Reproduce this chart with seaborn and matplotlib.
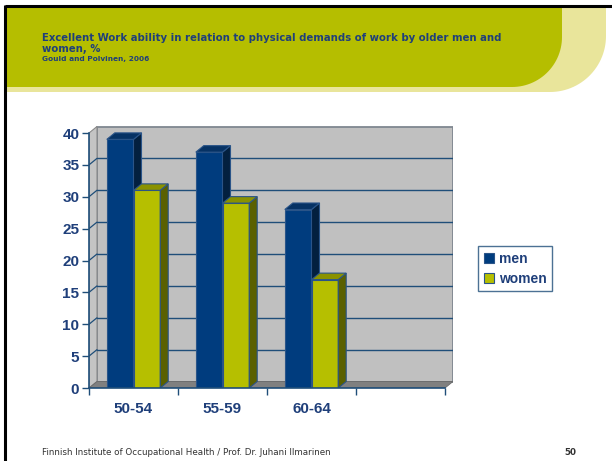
import numpy as np
import pandas as pd
import matplotlib
matplotlib.use("Agg")
import matplotlib.pyplot as plt
from matplotlib.patches import Polygon, Rectangle, Patch
import seaborn as sns

# ---- data ----
age_groups = ["50-54", "55-59", "60-64"]
men = [39, 37, 28]
women = [31, 29, 17]
series_names = ["men", "women"]
y_ticks = [0, 5, 10, 15, 20, 25, 30, 35, 40]
title_line1 = "Excellent Work ability in relation to physical demands of work by older men and"
title_line2 = "women, %"
source = "Gould and Polvinen, 2006"
footer = "Finnish Institute of Occupational Health / Prof. Dr. Juhani Ilmarinen"
page = "50"

df = pd.DataFrame({
    "age": age_groups * 2,
    "value": men + women,
    "sex": [series_names[0]] * len(men) + [series_names[1]] * len(women),
})

sns.set_theme(style="white")
plt.rcParams["font.family"] = ["Liberation Sans", "DejaVu Sans"]

W, H = 612, 461
fig = plt.figure(figsize=(W / 100, H / 100), dpi=100)

# ---- slide decoration (pixel coords) ----
deco = fig.add_axes([0, 0, 1, 1], zorder=0)
deco.set_xlim(0, W)
deco.set_ylim(H, 0)
deco.axis("off")

def rounded_band(x0, y0, x1, y1, r):
    pts = [(x0, y0), (x1, y0)]
    th = np.linspace(0, np.pi / 2, 30)
    cx, cy = x1 - r, y1 - r
    for t in th:
        pts.append((cx + r * np.cos(t), cy + r * np.sin(t)))
    pts.append((x0, y1))
    return Polygon(pts, closed=True)

light = rounded_band(6, 7, 606, 92, 56)
light.set_facecolor("#e9e59b"); light.set_edgecolor("none")
deco.add_patch(light)
olive = rounded_band(6, 7, 562, 87, 50)
olive.set_facecolor("#b5be00"); olive.set_edgecolor("none")
deco.add_patch(olive)
deco.plot([5, W], [6, 6], color="black", lw=2.2, solid_capstyle="butt")
deco.plot([5, 5], [5, H], color="black", lw=2.2, solid_capstyle="butt")

title_col = "#1f3f7a"
deco.text(42, 38, title_line1, fontsize=7.25, fontweight="bold", color=title_col,
          family=["DejaVu Sans"], va="center", ha="left")
deco.text(42, 49, title_line2, fontsize=7.25, fontweight="bold", color=title_col,
          family=["DejaVu Sans"], va="center", ha="left")
deco.text(42, 58.5, source, fontsize=5.3, fontweight="bold", color=title_col,
          family=["DejaVu Sans"], va="center", ha="left")
deco.text(42, 452, footer, fontsize=6.3, color="#333333",
          family=["DejaVu Sans"], va="center", ha="left")
deco.text(576, 452, page, fontsize=6.3, fontweight="bold", color="#333333",
          family=["DejaVu Sans"], va="center", ha="right")

# ---- chart axes ----
left_px, right_px, top_px, bot_px = 89, 453, 126, 388
ax = fig.add_axes([left_px / W, 1 - bot_px / H, (right_px - left_px) / W,
                   (bot_px - top_px) / H], zorder=2)
ax.patch.set_alpha(0)

px_per_cat = 89.0
px_per_unit = (388 - 133) / 40.0
dx = 8 / px_per_cat
dy = 6.5 / px_per_unit
ymax = 40
ncat = 4
x0, x1 = -0.5, -0.5 + ncat

palette = {"men": "#003c7e", "women": "#b6bf00"}
tops = {"men": "#063264", "women": "#8a9200"}
sides = {"men": "#03203f", "women": "#5a6000"}

sns.barplot(data=df, x="age", y="value", hue="sex", order=age_groups,
            hue_order=series_names, palette=palette, saturation=1, width=0.6, ax=ax,
            edgecolor="#2a5488", linewidth=0.8, legend=False, zorder=2)

ax.set_xlim(-0.5, -0.5 + (right_px - left_px) / px_per_cat)
ax.set_ylim(0, (bot_px - top_px) / px_per_unit)

wall = "#c0c0c0"
# back wall
ax.add_patch(Polygon([(x0 + dx, dy), (x1 + dx, dy), (x1 + dx, ymax + dy), (x0 + dx, ymax + dy)],
                     closed=True, facecolor=wall, edgecolor="#7f8790", lw=1.3, zorder=0.5))
# side wall
ax.add_patch(Polygon([(x0, 0), (x0 + dx, dy), (x0 + dx, ymax + dy), (x0, ymax)],
                     closed=True, facecolor="#c4c4c4", edgecolor="#8a8a8a", lw=0.8, zorder=0.6))
# floor
ax.add_patch(Polygon([(x0, 0), (x1, 0), (x1 + dx, dy), (x0 + dx, dy)],
                     closed=True, facecolor="#808080", edgecolor="#6a6a6a", lw=0.6, zorder=0.6))
grid_col = "#1f4e79"
for v in y_ticks[1:-1]:
    ax.plot([x0 + dx, x1 + dx], [v + dy, v + dy], color=grid_col, lw=1.0, zorder=0.8)
    ax.plot([x0, x0 + dx], [v, v + dy], color=grid_col, lw=0.9, zorder=0.8)

# 3D tops & sides
men_rgb = matplotlib.colors.to_rgb(palette["men"])
bars = [p for p in ax.patches if isinstance(p, Rectangle) and p.get_height() > 0]
bars = sorted(bars, key=lambda p: p.get_x())
z = 2
for p in bars:
    bx0 = p.get_x(); bx1 = bx0 + p.get_width(); h = p.get_height()
    name = "men" if np.allclose(p.get_facecolor()[:3], men_rgb, atol=0.02) else "women"
    p.set_zorder(z)
    ax.add_patch(Polygon([(bx1, 0), (bx1 + dx, dy), (bx1 + dx, h + dy), (bx1, h)], closed=True,
                         facecolor=sides[name], edgecolor="#2a5488", lw=0.8, zorder=z + 0.1))
    ax.add_patch(Polygon([(bx0, h), (bx1, h), (bx1 + dx, h + dy), (bx0 + dx, h + dy)], closed=True,
                         facecolor=tops[name], edgecolor="#2a5488", lw=0.8, zorder=z + 0.1))
    z += 1

# axes styling
axis_col = "#1f4e79"
lab_col = "#1f3f7a"
for s in ["top", "right"]:
    ax.spines[s].set_visible(False)
ax.spines["left"].set_bounds(0, ymax)
ax.spines["bottom"].set_bounds(x0, x1)
for s in ["left", "bottom"]:
    ax.spines[s].set_color(axis_col)
    ax.spines[s].set_linewidth(1.2)
    ax.spines[s].set_zorder(20)
ax.set_yticks(y_ticks)
ax.set_yticklabels([str(v) for v in y_ticks])
ax.set_xticks(range(len(age_groups)))
ax.set_xticklabels(age_groups)
ax.set_xticks([x0 + i for i in range(ncat + 1)], minor=True)
ax.tick_params(axis="y", direction="out", length=5, width=1, color=axis_col, left=True,
               labelsize=11, labelcolor=lab_col, pad=2)
ax.tick_params(axis="x", which="major", length=0, labelsize=11, labelcolor=lab_col, pad=10)
ax.tick_params(axis="x", which="minor", direction="out", length=5, width=1, color=axis_col, bottom=True)
for t in ax.get_xticklabels() + ax.get_yticklabels():
    t.set_fontweight("bold")
ax.set_xlabel("")
ax.set_ylabel("")

# legend
handles = [Patch(facecolor=palette[n], edgecolor="#2a5488", lw=0.8) for n in series_names]
leg = fig.legend(handles, series_names, loc="upper left",
                 bbox_to_anchor=(478 / W, 1 - 246 / H), borderaxespad=0,
                 frameon=True, fancybox=False, handlelength=0.75, handleheight=0.75,
                 handletextpad=0.35, labelspacing=0.45, borderpad=0.4,
                 prop={"weight": "bold", "size": 10})
leg.get_frame().set_edgecolor(axis_col)
leg.get_frame().set_linewidth(1.0)
for t in leg.get_texts():
    t.set_color(lab_col)

fig.savefig("out.png", dpi=100)
